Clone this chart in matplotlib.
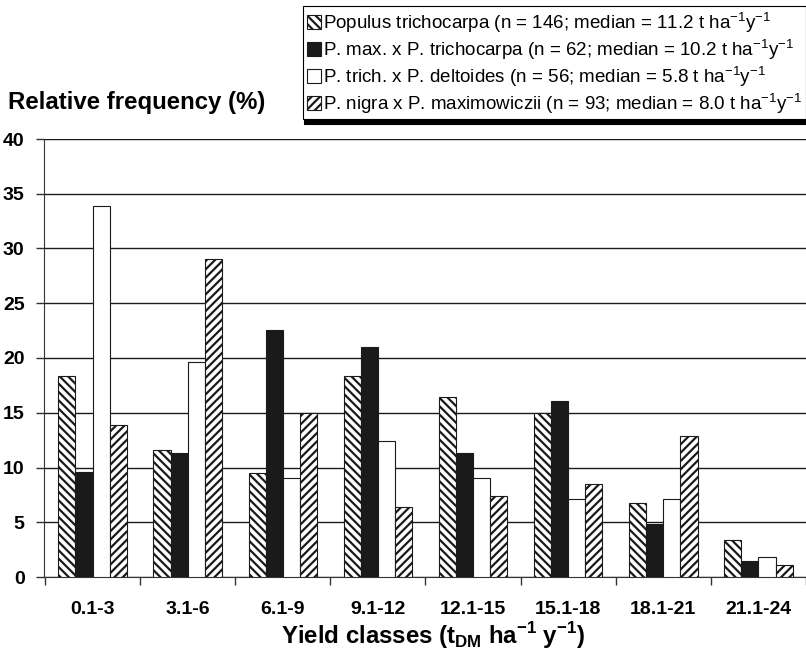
import matplotlib.pyplot as plt
import numpy as np

plt.rcParams["font.family"] = ["Liberation Sans", "DejaVu Sans"]
plt.rcParams["mathtext.fontset"] = "custom"
plt.rcParams["mathtext.rm"] = "Liberation Sans"
plt.rcParams["mathtext.bf"] = "Liberation Sans:bold"
plt.rcParams["hatch.linewidth"] = 1.6

CLASSES = ["0.1-3", "3.1-6", "6.1-9", "9.1-12", "12.1-15", "15.1-18", "18.1-21", "21.1-24"]

TRICHOCARPA = [18.4, 11.6, 9.5, 18.4, 16.4, 15.0, 6.8, 3.4]
MAX_X_TRICH = [9.6, 11.3, 22.6, 21.0, 11.3, 16.1, 4.8, 1.5]
TRICH_X_DELT = [33.9, 19.6, 9.0, 12.4, 9.0, 7.1, 7.1, 1.8]
NIGRA_X_MAX = [13.9, 29.0, 15.0, 6.4, 7.4, 8.5, 12.9, 1.1]

LABELS = [
    r"Populus trichocarpa (n = 146; median = 11.2 t ha$^{-1}$y$^{-1}$",
    r"P. max. x P. trichocarpa (n = 62; median = 10.2 t ha$^{-1}$y$^{-1}$",
    r"P. trich. x P. deltoides (n = 56; median = 5.8 t ha$^{-1}$y$^{-1}$",
    r"P. nigra x P. maximowiczii (n = 93; median = 8.0 t ha$^{-1}$y$^{-1}$",
]

fig = plt.figure(figsize=(8.06, 6.58), dpi=100)
ax = fig.add_axes([44 / 806, 1 - 577 / 658, 762 / 806, 438 / 658])

x = np.arange(len(CLASSES))
w = 0.18
series = [
    (TRICHOCARPA, "white", "\\\\\\\\"),
    (MAX_X_TRICH, "#1a1a1a", None),
    (TRICH_X_DELT, "white", None),
    (NIGRA_X_MAX, "white", "////"),
]
handles = []
for i, (vals, fc, hatch) in enumerate(series):
    b = ax.bar(x + (i - 1.5) * w, vals, width=w, color=fc, edgecolor="#1a1a1a",
               linewidth=0.8, hatch=hatch, zorder=3, label=LABELS[i])
    handles.append(b)

ax.set_ylim(0, 40)
ax.set_xlim(-0.51, 7.45)
ax.set_yticks(range(0, 41, 5))
ax.grid(axis="y", color="#1a1a1a", linewidth=1.0, zorder=0)
ax.set_xticks(np.arange(-0.5, 8, 1.0))
ax.set_xticklabels([])
ax.set_xticks(x, CLASSES, minor=True)
ax.tick_params(axis="x", which="major", length=6, width=1, color="#333333")
ax.tick_params(axis="x", which="minor", length=0, pad=17, labelsize=14)
ax.tick_params(axis="y", length=6, width=1, color="#333333", pad=8, labelsize=14)
for lab in ax.get_xticklabels(minor=True) + ax.get_yticklabels():
    lab.set_fontweight("bold")
for s in ("top", "right"):
    ax.spines[s].set_visible(False)
for s in ("left", "bottom"):
    ax.spines[s].set_color("#333333")

fig.text(8 / 806, 1 - 103 / 658, "Relative frequency (%)", fontsize=17.3,
         fontweight="bold", va="center", ha="left")
fig.text(433 / 806, 1 - 636 / 658,
         r"Yield classes (t$_{\mathbf{DM}}$ ha$^{\mathbf{-1}}$ y$^{\mathbf{-1}}$)",
         fontsize=17.3, fontweight="bold", va="center", ha="center")

leg = fig.legend(handles=handles, loc="upper right",
                 bbox_to_anchor=(1.0, 1 - 6 / 658), fontsize=13.5, fancybox=False,
                 edgecolor="black", framealpha=1, borderpad=0.2,
                 handlelength=0.75, handleheight=0.75, handletextpad=0.12,
                 labelspacing=0.12, borderaxespad=0,
                 shadow={"ox": 1, "oy": -3.5, "facecolor": "black", "edgecolor": "black", "alpha": 1})
leg.get_frame().set_linewidth(0.8)

fig.savefig("out.png", dpi=100)
